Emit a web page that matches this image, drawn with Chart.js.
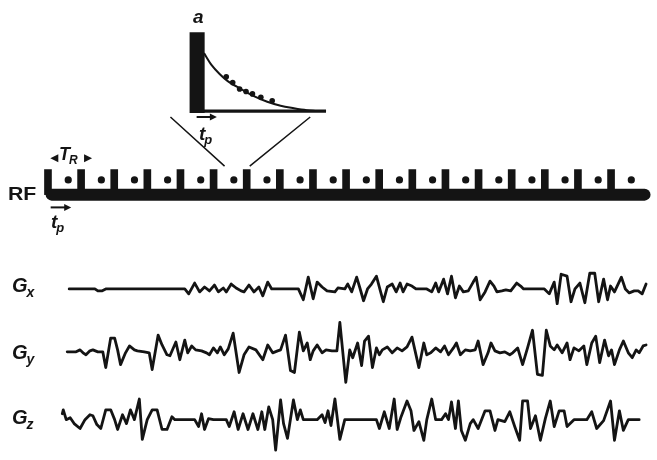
<!DOCTYPE html>
<html>
<head>
<meta charset="utf-8">
<script src="https://cdn.jsdelivr.net/npm/chart.js@4/dist/chart.umd.min.js"></script>
<style>
  html, body { margin: 0; padding: 0; background: #fff; overflow: hidden; }
  #wrap { position: relative; width: 657px; height: 460px; }
</style>
</head>
<body>
<div id="wrap"><canvas id="seq" width="657" height="460"></canvas></div>
<script>
// ---- RF train (time in units of T_R) ----
const rfPulseTimes = [0, 1, 2, 3, 4, 5, 6, 7, 8, 9, 10, 11, 12, 13, 14, 15, 16, 17];
const rfPulseAmps  = [25.5, 25.5, 25.5, 25.5, 25.5, 25.5, 25.5, 25.5, 25.5, 25.5, 25.5, 25.5, 25.5, 25.5, 25.5, 25.5, 25.5, 25.5];
const rfEchoTimes  = [0.4, 1.4, 2.4, 3.4, 4.4, 5.4, 6.4, 7.4, 8.4, 9.4, 10.4, 11.4, 12.4, 13.4, 14.4, 15.4, 16.4, 17.4];
const rfEchoAmps   = [15, 15, 15, 15, 15, 15, 15, 15, 15, 15, 15, 15, 15, 15, 15, 15, 15, 15];
const rfSpan       = [-0.1, 17.8];

// ---- magnified single T_R: pulse, signal decay and samples ----
const insetPulse   = [-1.5, 80];
const insetAxisT   = [-7, 130.5];
const decayT       = [7, 14.5, 23, 31, 44.5, 58, 71, 84.5, 98, 111, 121];
const decayA       = [59, 47, 37.5, 30.5, 22.5, 15, 9.5, 5.5, 3, 1, 0];
const sampleT      = [29.5, 36, 43, 49.5, 56, 64.5, 76];
const sampleA      = [35, 29, 22.5, 20, 17.5, 14, 10.5];

// ---- gradient waveforms [time, amplitude] ----
const gxWave = [
  [6,0],[32,0],[35,-2],[39,-2],[43,0],[123,0],[127,-5],[133,6],[138,-3],[143,2],[148,-2],[153,4],[157,-3],[162,1],
  [165,-3],[170,5],[175,1],[180,-2],[183,-3],[188,4],[193,-3],[198,2],[202,-7],[207,7],[211,0],[238,0],[243,-11],
  [248,12],[253,-10],[257,7],[262,2],[267,-2],[275,-3],[278,1],[285,0],[288,5],[292,-3],[297,12],[300,2],[304,-12],
  [308,0],[312,5],[317,13],[321,-2],[324,-13],[328,2],[333,5],[337,-3],[341,6],[344,-3],[348,5],[353,3],[357,0],
  [368,0],[373,-3],[377,6],[380,-3],[385,10],[389,-5],[393,13],[397,-9],[401,3],[405,-3],[410,-2],[415,7],[418,12],
  [422,-11],[427,-3],[432,8],[436,3],[439,-3],[444,-2],[448,-1],[453,-2],[459,6],[463,3],[466,0],[487,0],[492,-5],
  [497,7],[500,-15],[504,15],[510,13],[514,-13],[518,0],[523,6],[528,-14],[533,16],[538,16],[542,-13],[547,10],
  [551,-11],[554,3],[558,-3],[565,12],[569,0],[573,-4],[578,-2],[582,-2],[586,-5],[590,5]
];
const gyWave = [
  [4,0],[13,0],[17,2],[20,-1],[23,-3],[27,1],[30,2],[35,0],[40,0],[43,-16],[48,14],[52,14],[55,2],[58,-13],[63,-1],
  [67,6],[72,2],[75,1],[82,0],[87,-1],[90,-18],[96,17],[100,7],[105,-3],[108,-4],[114,10],[118,-8],[123,12],[126,-1],
  [130,6],[134,2],[140,1],[145,-1],[148,-3],[152,4],[156,-1],[159,5],[163,-3],[167,3],[172,19],[178,-21],[183,-3],
  [188,5],[195,2],[202,-8],[207,7],[212,-1],[217,1],[220,2],[225,17],[230,-19],[234,-21],[239,20],[243,1],[247,9],
  [250,-8],[253,1],[257,7],[262,-1],[266,2],[272,1],[277,1],[280,30],[286,-31],[290,2],[293,-6],[298,9],[302,-14],
  [305,11],[309,16],[313,-16],[317,4],[320,-3],[323,2],[328,5],[333,-1],[338,4],[343,1],[348,5],[353,15],[360,-16],
  [365,9],[368,-3],[372,-1],[377,4],[382,0],[386,6],[390,-3],[395,4],[398,9],[402,-3],[407,2],[412,1],[417,2],
  [420,11],[425,-13],[430,-1],[433,9],[437,1],[442,-1],[447,0],[452,-3],[455,-1],[460,4],[465,-13],[470,4],[475,22],
  [480,-23],[485,-24],[489,22],[493,6],[497,2],[500,7],[505,-1],[510,9],[513,-8],[517,4],[522,1],[527,6],[530,-13],
  [535,9],[539,16],[543,-11],[548,12],[552,-4],[555,2],[558,-13],[563,2],[567,11],[572,-1],[576,-6],[580,2],[583,-1],
  [587,6],[590,7]
];
const gzWave = [
  [-1,6],[0,10],[3,0],[7,2],[11,-4],[17,-9],[22,0],[27,5],[30,4],[34,-5],[38,-9],[43,10],[48,10],[52,0],[55,-10],
  [60,5],[64,-4],[68,10],[72,0],[77,21],[80,-20],[85,0],[90,10],[95,10],[100,-10],[105,-10],[110,3],[113,0],[133,0],
  [137,-7],[140,6],[143,-10],[147,1],[152,0],[165,0],[168,-7],[173,8],[177,-10],[182,6],[187,-10],[192,6],[197,-10],
  [201,8],[204,-10],[208,13],[212,0],[215,-31],[220,20],[223,-4],[227,-19],[233,20],[237,0],[240,10],[243,0],[257,0],
  [262,5],[265,-3],[268,9],[271,-6],[275,21],[280,-20],[285,0],[317,0],[320,-9],[325,8],[330,-9],[335,21],[338,-10],
  [342,3],[348,19],[352,9],[355,-11],[360,-2],[365,-21],[368,0],[373,21],[377,0],[383,0],[387,6],[390,0],[393,18],
  [397,-9],[400,19],[403,-11],[407,-21],[412,-4],[415,0],[420,-9],[427,9],[432,9],[437,-11],[440,0],[447,-2],[452,8],
  [457,-7],[462,-21],[465,19],[470,19],[473,-9],[478,4],[483,-21],[488,1],[493,19],[497,-7],[502,9],[507,9],[510,-7],
  [517,0],[530,0],[535,8],[540,-9],[547,-1],[554,19],[558,-21],[563,9],[567,-11],[572,0],[583,0]
];

const INK = '#141414';
const toXY = (ts, as) => ts.map((t, i) => ({ x: t, y: as[i] }));
const pairs = arr => arr.map(p => ({ x: p[0], y: p[1] }));

const waveStyle = {
  type: 'line', borderColor: INK, borderWidth: 2.8, pointRadius: 0, tension: 0,
  borderJoinStyle: 'round', borderCapStyle: 'round', xAxisID: 'xw'
};

const datasets = [
  // RF base line
  { type: 'line', data: toXY(rfSpan, [0, 0]), borderColor: INK, borderWidth: 12, borderCapStyle: 'round',
    pointRadius: 0, xAxisID: 'xrf', yAxisID: 'yrf' },
  // RF pulses
  { type: 'bar', data: toXY(rfPulseTimes, rfPulseAmps), backgroundColor: INK, barThickness: 7,
    xAxisID: 'xrf', yAxisID: 'yrf' },
  // echoes between pulses
  { type: 'scatter', data: toXY(rfEchoTimes, rfEchoAmps), backgroundColor: INK, borderWidth: 0, pointRadius: 3.6,
    xAxisID: 'xrf', yAxisID: 'yrf' },
  // magnified pulse
  { type: 'bar', data: [{ x: 0, y: insetPulse }], backgroundColor: INK, barThickness: 14.4,
    xAxisID: 'xin', yAxisID: 'yin' },
  // magnified time axis
  { type: 'line', data: toXY(insetAxisT, [0, 0]), borderColor: INK, borderWidth: 3.3, pointRadius: 0,
    xAxisID: 'xin', yAxisID: 'yin' },
  // decay curve
  { type: 'line', data: toXY(decayT, decayA), borderColor: INK, borderWidth: 2, pointRadius: 0,
    cubicInterpolationMode: 'monotone', xAxisID: 'xin', yAxisID: 'yin' },
  // samples
  { type: 'scatter', data: toXY(sampleT, sampleA), backgroundColor: INK, borderWidth: 0, pointRadius: 2.8,
    xAxisID: 'xin', yAxisID: 'yin' },
  // gradients
  Object.assign({ data: pairs(gxWave), yAxisID: 'ygx' }, waveStyle),
  Object.assign({ data: pairs(gyWave), yAxisID: 'ygy' }, waveStyle),
  Object.assign({ data: pairs(gzWave), yAxisID: 'ygz' }, waveStyle)
];

const hidden = (min, max) => ({ type: 'linear', display: false, offset: false, grace: 0, min, max });

// text labels, arrows and the magnification guide lines
const labels = {
  id: 'labels',
  afterDatasetsDraw(chart) {
    const { ctx, scales } = chart;
    const xin = scales.xin, yin = scales.yin, xrf = scales.xrf, yrf = scales.yrf;
    ctx.save();
    ctx.fillStyle = INK;
    ctx.strokeStyle = INK;

    // guide lines from the magnified view down to one pulse period
    ctx.lineWidth = 1.5;
    ctx.beginPath();
    ctx.moveTo(xin.getPixelForValue(-27), yin.getPixelForValue(-6));
    ctx.lineTo(xrf.getPixelForValue(5.12), yrf.getPixelForValue(29));
    ctx.moveTo(xin.getPixelForValue(114.5), yin.getPixelForValue(-6));
    ctx.lineTo(xrf.getPixelForValue(5.88), yrf.getPixelForValue(29));
    ctx.stroke();

    const head = (x, y, dir, len, half) => {
      ctx.beginPath();
      ctx.moveTo(x, y);
      ctx.lineTo(x - dir * len, y - half);
      ctx.lineTo(x - dir * len, y + half);
      ctx.closePath();
      ctx.fill();
    };
    const arrow = (x1, x2, y) => {
      ctx.lineWidth = 2;
      ctx.beginPath();
      ctx.moveTo(x1, y);
      ctx.lineTo(x2 - 5, y);
      ctx.stroke();
      head(x2, y, 1, 7, 3.5);
    };

    // t_p arrows
    arrow(xin.getPixelForValue(-0.5), xin.getPixelForValue(20), yin.getPixelForValue(-6));
    arrow(xrf.getPixelForValue(-0.13), xrf.getPixelForValue(0.49), yrf.getPixelForValue(-13));

    // T_R double arrow heads
    const yTR = yrf.getPixelForValue(37);
    head(xrf.getPixelForValue(-0.14), yTR, -1, 8, 4);
    head(xrf.getPixelForValue(1.12), yTR, 1, 8, 4);

    const FAM = '"Liberation Sans", Arial, sans-serif';
    const sub = (main, s, x, y, size, subSize, dy, font, gap) => {
      ctx.font = `${font} ${size}px ${FAM}`;
      ctx.textBaseline = 'alphabetic';
      ctx.fillText(main, x, y);
      const w = ctx.measureText(main).width;
      ctx.font = `${font} ${subSize}px ${FAM}`;
      ctx.fillText(s, x + w + (gap || -1), y + dy);
    };

    ctx.font = `bold italic 19px ${FAM}`;
    ctx.fillText('a', 193, 23);

    sub('t', 'p', 199, 140, 19, 13, 4, 'bold italic');
    sub('t', 'p', 51, 228, 19, 13, 4, 'bold italic');
    sub('T', 'R', 59, 160, 18, 12, 4, 'bold italic');

    // RF label, slightly widened
    ctx.save();
    ctx.translate(8, 200);
    ctx.scale(1.12, 1);
    ctx.font = `bold 19px ${FAM}`;
    ctx.fillText('RF', 0, 0);
    ctx.restore();

    sub('G', 'x', 12, 292, 20, 14, 5, 'bold italic', 0);
    sub('G', 'y', 12, 359, 20, 14, 5, 'bold italic', 0);
    sub('G', 'z', 12, 424, 20, 14, 5, 'bold italic', 0);
    ctx.restore();
  }
};

new Chart(document.getElementById('seq'), {
  data: { datasets },
  options: {
    responsive: false,
    animation: false,
    devicePixelRatio: 1,
    layout: { padding: 0 },
    plugins: { legend: { display: false }, tooltip: { enabled: false } },
    scales: {
      xw:  hidden(-60, 597),
      xrf: hidden(-1.539, 18.055),
      xin: hidden(-195.5, 461.5),
      yrf: hidden(-266, 194),
      yin: hidden(-351, 109),
      ygx: hidden(-170, 290),
      ygy: hidden(-106, 354),
      ygz: hidden(-37, 423)
    }
  },
  plugins: [labels]
});
</script>
</body>
</html>
